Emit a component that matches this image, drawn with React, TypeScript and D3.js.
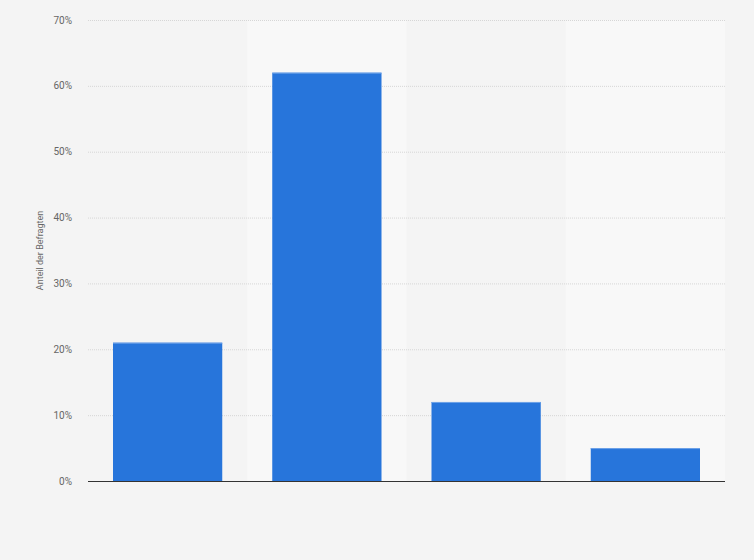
import { useEffect, useRef } from "react";
import * as d3 from "d3";

// categories have no visible labels in the source chart
const CATEGORIES = ["1", "2", "3", "4"];
const VALUES = [21, 62, 12, 5];
const Y_TICKS = [0, 10, 20, 30, 40, 50, 60, 70];
const Y_LABEL = "Anteil der Befragten";

const W = 754, H = 560;

export default function App() {
  const svgRef = useRef<SVGSVGElement>(null);

  useEffect(() => {
    if (!svgRef.current) return;
    const svg = d3.select(svgRef.current);
    svg.selectAll("*").remove();

    const margin = { top: 20, right: 29, bottom: 79, left: 88 };
    const x0 = margin.left, x1 = W - margin.right;
    const y0 = H - margin.bottom, y1 = margin.top;

    svg.append("rect").attr("width", W).attr("height", H).attr("fill", "#f4f4f4");

    const x = d3.scaleBand().domain(CATEGORIES).range([x0, x1]).padding(0);
    const y = d3.scaleLinear().domain([0, 70]).range([y0, y1]);
    const barPad = 25;

    // --- alternating column bands ---
    svg.append("g")
      .selectAll("rect")
      .data(CATEGORIES.filter((_, i) => i % 2 === 1))
      .join("rect")
      .attr("x", (d) => x(d)!)
      .attr("y", y1)
      .attr("width", x.bandwidth())
      .attr("height", y0 - y1)
      .attr("fill", "#f8f8f8");

    // --- grid ---
    svg.append("g")
      .selectAll("line")
      .data(Y_TICKS.filter((t) => t > 0))
      .join("line")
      .attr("x1", x0).attr("x2", x1)
      .attr("y1", (d) => y(d) + 0.5).attr("y2", (d) => y(d) + 0.5)
      .attr("stroke", "#d6d6d6")
      .attr("stroke-dasharray", "1,1");

    // --- tick labels ---
    svg.append("g")
      .selectAll("text")
      .data(Y_TICKS)
      .join("text")
      .attr("x", 72)
      .attr("y", (d) => y(d))
      .attr("dy", "0.35em")
      .attr("text-anchor", "end")
      .attr("fill", "#666")
      .attr("font-family", "Roboto, Arial, sans-serif")
      .attr("font-size", "10px")
      .text((d) => `${d}%`);

    // --- bars ---
    const bars = svg.append("g")
      .selectAll("g")
      .data(CATEGORIES.map((c, i) => ({ c, v: VALUES[i] })))
      .join("g");
    bars.append("rect")
      .attr("x", (d) => x(d.c)! + barPad)
      .attr("y", (d) => y(d.v))
      .attr("width", x.bandwidth() - 2 * barPad)
      .attr("height", (d) => y0 - y(d.v))
      .attr("fill", "#2775db");
    bars.append("line")
      .attr("x1", (d) => x(d.c)! + barPad)
      .attr("x2", (d) => x(d.c)! + x.bandwidth() - barPad)
      .attr("y1", (d) => y(d.v) + 0.5)
      .attr("y2", (d) => y(d.v) + 0.5)
      .attr("stroke", "#6fa3e8")
      .attr("stroke-width", 1);

    // --- baseline ---
    svg.append("line")
      .attr("x1", x0).attr("x2", x1)
      .attr("y1", y0 + 0.5).attr("y2", y0 + 0.5)
      .attr("stroke", "#333")
      .attr("stroke-width", 1.2);

    // --- y label ---
    svg.append("text")
      .attr("transform", `translate(43,${(y0 + y1) / 2}) rotate(-90)`)
      .attr("text-anchor", "middle")
      .attr("fill", "#666")
      .attr("font-family", "Roboto, Arial, sans-serif")
      .attr("font-size", "9px")
      .text(Y_LABEL);
  }, []);

  return (
    <svg
      ref={svgRef}
      width={W}
      height={H}
      style={{ position: "absolute", left: 0, top: 0, display: "block" }}
    />
  );
}
